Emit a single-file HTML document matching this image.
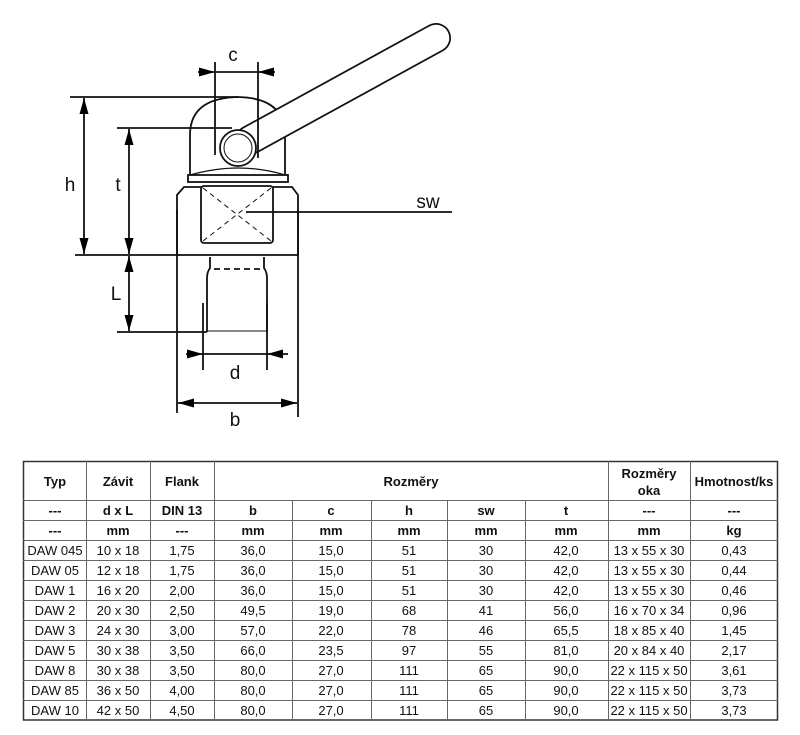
<!DOCTYPE html>
<html><head><meta charset="utf-8"><style>
body{margin:0;background:#fff;width:800px;height:735px;overflow:hidden}
svg{display:block}
text{font-family:"Liberation Sans",sans-serif}
</style></head><body>
<svg width="800" height="735" viewBox="0 0 800 735" xmlns="http://www.w3.org/2000/svg">
<defs>
<marker id="a" viewBox="0 0 16 10" refX="16" refY="5" markerWidth="16" markerHeight="10" orient="auto-start-reverse" markerUnits="userSpaceOnUse"><path d="M0,0.5 L16,5 L0,9.5 z" fill="#000"/></marker>
</defs>
<g fill="none" stroke="#111" stroke-width="1.8">
<!-- dome -->
<path d="M190,175 L190,135 Q190,98 238,97 Q285,98 285,135 L285,175" fill="#fff"/>
<!-- handle rod -->
<line x1="250" y1="140" x2="436" y2="38" stroke="#111" stroke-width="30" stroke-linecap="round"/>
<line x1="250" y1="140" x2="436" y2="38" stroke="#fff" stroke-width="26.5" stroke-linecap="round"/>
<circle cx="238" cy="148" r="18" fill="#fff"/>
<circle cx="238" cy="148" r="14" stroke-width="1"/>
<path d="M190,175 Q215,168 238,168 Q262,168 285,175" stroke-width="1.2"/>
<!-- plate -->
<rect x="188" y="175" width="100" height="7" fill="#fff"/>
<!-- hex body -->
<path d="M177,255 L177,195 L184,187 L292,187 L298,195 L298,255 Z" fill="#fff"/>
<rect x="201" y="186" width="72" height="57" rx="3" fill="#fff"/>
<path d="M203,188 L271,241 M271,188 L203,241" stroke-dasharray="5,4" stroke-width="1"/>
<!-- neck and shank -->
<path d="M210,257 L210,268 Q207,272 207,278 L207,332 M264,257 L264,268 Q267,272 267,278 L267,332" />
<line x1="214" y1="269" x2="262" y2="269" stroke-dasharray="6,4"/>
<line x1="207" y1="331" x2="267" y2="331" stroke-width="1"/>
<!-- dimensions -->
<line x1="70" y1="97" x2="238" y2="97"/>
<line x1="75" y1="255" x2="180" y2="255"/>
<line x1="117" y1="128" x2="232" y2="128"/>
<line x1="117" y1="332" x2="207" y2="332"/>
<line x1="84" y1="98" x2="84" y2="254" marker-start="url(#a)" marker-end="url(#a)"/>
<line x1="129" y1="129" x2="129" y2="254" marker-start="url(#a)" marker-end="url(#a)"/>
<line x1="129" y1="256" x2="129" y2="331" marker-start="url(#a)" marker-end="url(#a)"/>
<line x1="215" y1="62" x2="215" y2="155"/>
<line x1="258" y1="62" x2="258" y2="158"/>
<line x1="198" y1="72" x2="215" y2="72" marker-end="url(#a)"/>
<line x1="275" y1="72" x2="258" y2="72" marker-end="url(#a)"/>
<line x1="215" y1="72" x2="258" y2="72"/>
<line x1="203" y1="303" x2="203" y2="370"/>
<line x1="267" y1="303" x2="267" y2="370"/>
<line x1="186" y1="354" x2="203" y2="354" marker-end="url(#a)"/>
<line x1="288" y1="354" x2="267" y2="354" marker-end="url(#a)"/>
<line x1="203" y1="354" x2="267" y2="354"/>
<line x1="177" y1="210" x2="177" y2="413"/>
<line x1="298" y1="210" x2="298" y2="417"/>
<line x1="178" y1="403" x2="297" y2="403" marker-start="url(#a)" marker-end="url(#a)"/>
<line x1="246" y1="212" x2="452" y2="212"/>
</g>
<g font-size="19" fill="#111" text-anchor="middle">
<text x="233" y="61">c</text>
<text x="70" y="191">h</text>
<text x="118" y="191">t</text>
<text x="116" y="300">L</text>
<text x="235" y="379">d</text>
<text x="235" y="426">b</text>
<text x="428" y="208">sw</text>
</g>
<!-- table -->
<g stroke="#666" stroke-width="1" fill="none">
<rect x="23.5" y="461.5" width="754" height="258.5" stroke="#333" stroke-width="1.5"/>
<line x1="23" y1="500.5" x2="778" y2="500.5"/>
<line x1="23" y1="520.5" x2="778" y2="520.5"/>
<line x1="23" y1="540.5" x2="778" y2="540.5"/>
<line x1="23" y1="560.5" x2="778" y2="560.5"/>
<line x1="23" y1="580.5" x2="778" y2="580.5"/>
<line x1="23" y1="600.5" x2="778" y2="600.5"/>
<line x1="23" y1="620.5" x2="778" y2="620.5"/>
<line x1="23" y1="640.5" x2="778" y2="640.5"/>
<line x1="23" y1="660.5" x2="778" y2="660.5"/>
<line x1="23" y1="680.5" x2="778" y2="680.5"/>
<line x1="23" y1="700.5" x2="778" y2="700.5"/>
<line x1="86.5" y1="461" x2="86.5" y2="720"/>
<line x1="150.5" y1="461" x2="150.5" y2="720"/>
<line x1="214.5" y1="461" x2="214.5" y2="720"/>
<line x1="292.5" y1="500" x2="292.5" y2="720"/>
<line x1="371.5" y1="500" x2="371.5" y2="720"/>
<line x1="447.5" y1="500" x2="447.5" y2="720"/>
<line x1="525.5" y1="500" x2="525.5" y2="720"/>
<line x1="608.5" y1="461" x2="608.5" y2="720"/>
<line x1="690.5" y1="461" x2="690.5" y2="720"/>
</g>
<g font-size="13" fill="#111" text-anchor="middle" font-weight="bold">
<text x="55" y="486">Typ</text><text x="118" y="486">Závit</text><text x="182" y="486">Flank</text>
<text x="411" y="486">Rozměry</text><text x="649" y="478">Rozměry</text><text x="649" y="495">oka</text>
<text x="734" y="486">Hmotnost/ks</text>
<text x="55" y="515">---</text><text x="118" y="515">d x L</text><text x="182" y="515">DIN 13</text>
<text x="253" y="515">b</text><text x="331" y="515">c</text><text x="409" y="515">h</text><text x="486" y="515">sw</text><text x="566" y="515">t</text><text x="649" y="515">---</text><text x="734" y="515">---</text>
<text x="55" y="535">---</text><text x="118" y="535">mm</text><text x="182" y="535">---</text>
<text x="253" y="535">mm</text><text x="331" y="535">mm</text><text x="409" y="535">mm</text><text x="486" y="535">mm</text><text x="566" y="535">mm</text><text x="649" y="535">mm</text><text x="734" y="535">kg</text>
</g>
<g font-size="13" fill="#111" text-anchor="middle">
<g transform="translate(0,555)"><text x="55">DAW 045</text><text x="118">10 x 18</text><text x="182">1,75</text><text x="253">36,0</text><text x="331">15,0</text><text x="409">51</text><text x="486">30</text><text x="566">42,0</text><text x="649">13 x 55 x 30</text><text x="734">0,43</text></g>
<g transform="translate(0,575)"><text x="55">DAW 05</text><text x="118">12 x 18</text><text x="182">1,75</text><text x="253">36,0</text><text x="331">15,0</text><text x="409">51</text><text x="486">30</text><text x="566">42,0</text><text x="649">13 x 55 x 30</text><text x="734">0,44</text></g>
<g transform="translate(0,595)"><text x="55">DAW 1</text><text x="118">16 x 20</text><text x="182">2,00</text><text x="253">36,0</text><text x="331">15,0</text><text x="409">51</text><text x="486">30</text><text x="566">42,0</text><text x="649">13 x 55 x 30</text><text x="734">0,46</text></g>
<g transform="translate(0,615)"><text x="55">DAW 2</text><text x="118">20 x 30</text><text x="182">2,50</text><text x="253">49,5</text><text x="331">19,0</text><text x="409">68</text><text x="486">41</text><text x="566">56,0</text><text x="649">16 x 70 x 34</text><text x="734">0,96</text></g>
<g transform="translate(0,635)"><text x="55">DAW 3</text><text x="118">24 x 30</text><text x="182">3,00</text><text x="253">57,0</text><text x="331">22,0</text><text x="409">78</text><text x="486">46</text><text x="566">65,5</text><text x="649">18 x 85 x 40</text><text x="734">1,45</text></g>
<g transform="translate(0,655)"><text x="55">DAW 5</text><text x="118">30 x 38</text><text x="182">3,50</text><text x="253">66,0</text><text x="331">23,5</text><text x="409">97</text><text x="486">55</text><text x="566">81,0</text><text x="649">20 x 84 x 40</text><text x="734">2,17</text></g>
<g transform="translate(0,675)"><text x="55">DAW 8</text><text x="118">30 x 38</text><text x="182">3,50</text><text x="253">80,0</text><text x="331">27,0</text><text x="409">111</text><text x="486">65</text><text x="566">90,0</text><text x="649">22 x 115 x 50</text><text x="734">3,61</text></g>
<g transform="translate(0,695)"><text x="55">DAW 85</text><text x="118">36 x 50</text><text x="182">4,00</text><text x="253">80,0</text><text x="331">27,0</text><text x="409">111</text><text x="486">65</text><text x="566">90,0</text><text x="649">22 x 115 x 50</text><text x="734">3,73</text></g>
<g transform="translate(0,715)"><text x="55">DAW 10</text><text x="118">42 x 50</text><text x="182">4,50</text><text x="253">80,0</text><text x="331">27,0</text><text x="409">111</text><text x="486">65</text><text x="566">90,0</text><text x="649">22 x 115 x 50</text><text x="734">3,73</text></g>
</g>
</svg>
</body></html>
